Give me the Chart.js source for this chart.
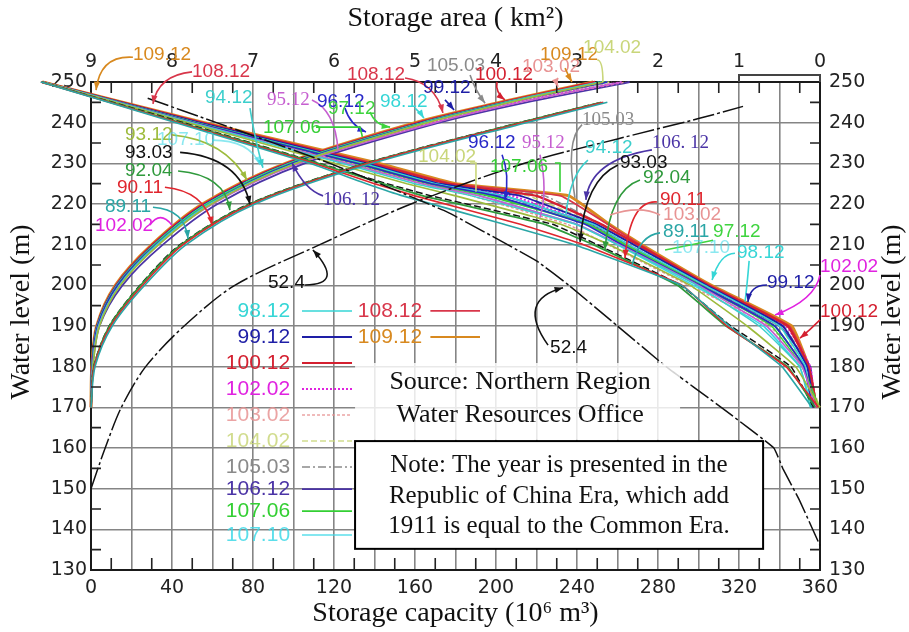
<!DOCTYPE html>
<html>
<head>
<meta charset="utf-8">
<script src="https://cdn.jsdelivr.net/npm/chart.js@4.4.1/dist/chart.umd.min.js"></script>
<style>
  html, body { margin: 0; padding: 0; background: #fff; }
  canvas { display: block; }
</style>
</head>
<body>
<canvas id="chart" width="909" height="632"></canvas>
<script>
// water levels (m) at which the curves were read
const capLevels = [170, 180, 190, 200, 210, 220, 230, 240, 245, 250];
const areaLevels = [250, 240, 230, 225, 222, 215, 210, 200, 190, 180, 170];

// storage capacity (10^6 m3) by survey, at capLevels
const cap8911  = [0, 2.0, 10.5, 26.5, 47.0, 81.0, 139.0, 215.0, 255.0, null];
const cap9011  = [0, 1.6, 9.8, 25.5, 45.5, 79.5, 137.0, 213.0, 253.0, null];
const cap9204  = [0, 1.5, 9.2, 24.5, 44.5, 78.5, 136.0, 212.0, 252.0, null];
const cap9303  = [0, 1.4, 9.0, 24.2, 44.0, 78.0, 135.5, 211.5, 252.0, null];
const cap9312  = [0, 1.0, 4.2, 14.5, 33.5, 59.5, 101.5, 166.0, 207.0, 253];
const cap9412  = [0, 0.9, 3.8, 14.0, 32.5, 58.5, 100.5, 165.0, 206.0, 252];
const cap9512  = [0, 0.8, 3.8, 14.2, 33.0, 60.0, 103.0, 170.0, 212.0, 262];
const cap9612  = [0, 0.6, 3.3, 13.2, 32.0, 58.5, 99.5, 165.0, 206.0, 255];
const cap9712  = [0, 0.6, 3.2, 13.0, 31.5, 57.5, 98.5, 164.0, 205.0, 253];
const cap9812  = [0, 0.5, 3.1, 12.8, 31.2, 57.0, 98.0, 163.5, 204.5, 251];
const cap9912  = [0, 0.5, 3.0, 12.6, 31.0, 56.5, 97.5, 163.0, 204.5, 253];
const cap10012 = [0, 0.5, 3.0, 12.5, 30.5, 56.0, 97.0, 162.0, 203.0, 249];
const cap10202 = [0, 0.6, 3.5, 13.5, 32.5, 59.5, 101.5, 168.0, 210.0, 262];
const cap10302 = [0, 0.7, 3.6, 13.8, 32.5, 59.5, 102.0, 169.0, 211.0, 264];
const cap10402 = [0, 0.5, 3.2, 13.0, 31.8, 58.0, 100.0, 166.0, 208.0, 256];
const cap10503 = [0, 0.5, 3.3, 13.2, 32.0, 58.5, 100.5, 166.5, 208.0, 257];
const cap10612 = [0, 0.8, 4.2, 15.5, 35.5, 62.5, 105.5, 172.0, 215.0, 266];
const cap10706 = [0, 0.5, 3.1, 12.9, 31.2, 57.2, 98.5, 164.0, 206.0, 254];
const cap10710 = [0, 0.6, 3.4, 13.3, 31.8, 58.0, 99.5, 165.5, 207.0, 255];
const cap10812 = [0, 0.5, 2.9, 12.3, 30.5, 55.5, 96.5, 161.0, 202.5, 249];
const cap10912 = [0, 0.4, 2.8, 12.0, 30.0, 55.0, 96.0, 160.0, 202.0, 248];

// storage area (km2) by survey, at areaLevels
const area8911  = [9.62, 7.95, 6.30, 5.60, 5.15, 3.90, 3.03, 1.71, 1.12, 0.47, 0.10];
const area9011  = [9.62, 7.92, 6.25, 5.50, 5.00, 3.70, 2.92, 1.70, 1.15, 0.42, 0.02];
const area9204  = [9.61, 7.90, 6.20, 5.40, 4.90, 3.40, 2.80, 1.76, 1.16, 0.40, 0.06];
const area9303  = [9.61, 7.86, 6.18, 5.35, 4.80, 3.30, 2.75, 1.72, 1.10, 0.36, 0.08];
const area9312  = [9.60, 7.80, 6.00, 5.10, 4.50, 3.20, 2.60, 1.60, 0.90, 0.30, 0.00];
const area9412  = [9.60, 7.76, 5.90, 5.00, 4.30, 3.02, 2.50, 1.52, 0.75, 0.25, 0.12];
const area9512  = [9.60, 7.75, 5.85, 4.92, 4.20, 3.00, 2.48, 1.50, 0.66, 0.22, 0.05];
const area9612  = [9.60, 7.72, 5.72, 4.80, 4.00, 2.90, 2.45, 1.48, 0.56, 0.20, 0.09];
const area9712  = [9.60, 7.70, 5.70, 4.80, 4.05, 2.86, 2.40, 1.46, 0.60, 0.22, 0.01];
const area9812  = [9.60, 7.70, 5.65, 4.75, 3.90, 2.80, 2.36, 1.42, 0.50, 0.18, 0.11];
const area9912  = [9.60, 7.66, 5.60, 4.70, 3.70, 2.76, 2.30, 1.40, 0.46, 0.16, 0.07];
const area10012 = [9.60, 7.64, 5.55, 4.60, 3.50, 2.70, 2.25, 1.38, 0.40, 0.14, 0.04];
const area10202 = [9.60, 7.70, 5.70, 4.76, 3.80, 2.82, 2.36, 1.45, 0.42, 0.12, 0.06];
const area10302 = [9.60, 7.76, 5.80, 4.90, 4.30, 3.12, 2.62, 1.62, 0.62, 0.20, 0.03];
const area10402 = [9.60, 7.70, 5.66, 4.70, 3.60, 2.76, 2.30, 1.42, 0.50, 0.20, 0.00];
const area10503 = [9.60, 7.66, 5.60, 4.66, 3.40, 2.70, 2.26, 1.40, 0.45, 0.15, 0.05];
const area10612 = [9.60, 7.70, 5.70, 4.80, 3.90, 2.82, 2.40, 1.46, 0.50, 0.12, 0.08];
const area10706 = [9.60, 7.72, 5.75, 4.86, 4.10, 2.86, 2.42, 1.50, 0.56, 0.20, 0.02];
const area10710 = [9.60, 7.76, 5.80, 4.90, 4.20, 3.00, 2.50, 1.56, 0.70, 0.25, 0.10];
const area10812 = [9.60, 7.62, 5.50, 4.55, 3.20, 2.62, 2.22, 1.36, 0.38, 0.13, 0.04];
const area10912 = [9.60, 7.60, 5.45, 4.50, 3.10, 2.60, 2.20, 1.34, 0.35, 0.14, 0.05];

// original 1963 (52.4) survey has its own levels
const capLevels524 = [150, 160, 170, 180, 190, 200, 210, 220, 230, 236, 241, 244];
const cap524 = [0, 7, 15, 27, 46, 71, 113, 158, 214, 260, 300, 322];
const areaLevels524 = [246, 240, 230, 218, 206, 200, 190, 180, 170, 160, 155, 147, 136];
const area524 = [8.30, 7.45, 6.05, 4.60, 3.50, 3.10, 2.50, 1.90, 1.22, 0.57, 0.46, 0.25, 0.00];

const surveyNames = ['89.11', '90.11', '92.04', '93.03', '93.12', '94.12', '95.12', '96.12', '97.12', '98.12', '99.12',
  '100.12', '102.02', '103.02', '104.02', '105.03', '106.12', '107.06', '107.10', '108.12', '109.12'];
const capacitySeries = [cap8911, cap9011, cap9204, cap9303, cap9312, cap9412, cap9512, cap9612, cap9712, cap9812, cap9912,
  cap10012, cap10202, cap10302, cap10402, cap10503, cap10612, cap10706, cap10710, cap10812, cap10912];
const areaSeries = [area8911, area9011, area9204, area9303, area9312, area9412, area9512, area9612, area9712, area9812, area9912,
  area10012, area10202, area10302, area10402, area10503, area10612, area10706, area10710, area10812, area10912];

// line styles
const styles = {
  '52.4':   { color: '#111111', width: 1.5, dash: [22, 3, 3, 3] },
  '89.11':  { color: '#2aa6a6', width: 1.6, dash: [] },
  '90.11':  { color: '#e0262e', width: 1.6, dash: [] },
  '92.04':  { color: '#2f9a3c', width: 1.8, dash: [] },
  '93.03':  { color: '#111111', width: 1.5, dash: [7, 3] },
  '93.12':  { color: '#9dbb3c', width: 1.6, dash: [] },
  '94.12':  { color: '#3ccfcc', width: 1.5, dash: [] },
  '95.12':  { color: '#c65fd0', width: 1.6, dash: [] },
  '96.12':  { color: '#2828c8', width: 1.6, dash: [] },
  '97.12':  { color: '#3fd43f', width: 1.6, dash: [] },
  '98.12':  { color: '#36d6d6', width: 1.6, dash: [] },
  '99.12':  { color: '#1e1ea6', width: 1.8, dash: [] },
  '100.12': { color: '#d42030', width: 2.4, dash: [] },
  '102.02': { color: '#e022e0', width: 2.0, dash: [2, 2] },
  '103.02': { color: '#e89494', width: 1.5, dash: [3, 2] },
  '104.02': { color: '#c9d67a', width: 1.5, dash: [6, 3] },
  '105.03': { color: '#8a8a8a', width: 1.5, dash: [8, 3, 2, 3] },
  '106.12': { color: '#4b34a6', width: 1.8, dash: [] },
  '107.06': { color: '#33cf33', width: 1.8, dash: [] },
  '107.10': { color: '#3ed8e6', width: 1.6, dash: [] },
  '108.12': { color: '#d8364a', width: 1.8, dash: [] },
  '109.12': { color: '#d8891f', width: 3.0, dash: [] }
};

const legendCol1 = ['98.12', '99.12', '100.12', '102.02', '103.02', '104.02', '105.03', '106.12', '107.06', '107.10'];
const legendCol2 = ['108.12', '109.12'];

// callouts: label position and leader path, in (capacity, level) units
const callouts = [
  { t: '109.12', c: '#d8891f', at: [20.7, 256.6], path: [[20.7, 256.1], [4.4, 256.6], [2.5, 248.0]] },
  { t: '108.12', c: '#d8364a', at: [49.9, 252.5], path: [[49.9, 252.5], [33.1, 251.7], [30.6, 244.6]] },
  { t: '94.12', c: '#3ccfcc', at: [56.3, 246.1], path: [[78.5, 243.6], [81.0, 235.7], [84.9, 228.9]] },
  { t: '95.12', c: '#c65fd0', at: [86.9, 245.6], path: [[109.1, 245.6], [120.5, 243.1], [122.0, 233.3]], serif: true, noHead: true },
  { t: '96.12', c: '#2828c8', at: [111.6, 245.1], path: [[125.4, 243.6], [127.9, 239.4], [135.8, 237.7]] },
  { t: '97.12', c: '#3fd43f', at: [117.0, 243.4], path: [[137.8, 242.6], [140.2, 239.4], [147.7, 238.9]] },
  { t: '98.12', c: '#36d6d6', at: [142.7, 245.1], path: [[160.0, 243.6], [162.5, 242.6], [164.4, 241.1]] },
  { t: '107.06', c: '#33cf33', at: [84.9, 238.7], path: [[111.1, 238.9], [132.8, 238.9], [133.8, 237.0], [134.0, 236.5]], noHead: true },
  { t: '93.12', c: '#9dbb3c', at: [16.8, 237.0], path: [[40.0, 237.0], [66.2, 235.7], [77.0, 225.9]] },
  { t: '107.10', c: '#3ed8e6', at: [32.6, 235.7], path: [[59.8, 235.7], [78.5, 235.7], [83.5, 229.6]], faded: true },
  { t: '93.03', c: '#111111', at: [16.8, 232.7], path: [[44.0, 232.7], [73.6, 231.5], [78.5, 219.9]] },
  { t: '92.04', c: '#2f9a3c', at: [16.8, 228.1], path: [[43.0, 228.1], [66.2, 227.1], [68.6, 218.5]] },
  { t: '90.11', c: '#e0262e', at: [12.8, 224.1], path: [[36.5, 224.1], [56.3, 223.1], [59.8, 214.8]] },
  { t: '89.11', c: '#2aa6a6', at: [6.9, 219.2], path: [[30.6, 219.2], [46.4, 218.7], [47.9, 211.5]] },
  { t: '102.02', c: '#e022e0', at: [2.0, 214.6], path: [[29.1, 214.8], [34.1, 218.5], [40.0, 214.8]], noHead: true },
  { t: '106. 12', c: '#4b34a6', at: [114.6, 221.0], path: [[114.6, 222.0], [105.7, 223.4], [99.3, 230.1]], serif: true },
  { t: '52.4', c: '#111111', at: [87.4, 200.6], path: [[105.7, 200.1], [125.4, 200.1], [109.6, 208.7]] },
  { t: '108.12', c: '#d8364a', at: [126.4, 251.7], path: [[155.1, 251.0], [169.9, 250.0], [173.8, 242.4]] },
  { t: '105.03', c: '#8a8a8a', at: [165.9, 254.1], path: [[187.2, 251.7], [189.6, 248.0], [194.6, 244.8]] },
  { t: '99.12', c: '#1e1ea6', at: [164.0, 248.5], path: [[174.8, 245.6], [177.3, 244.3], [179.3, 243.1]] },
  { t: '100.12', c: '#d42030', at: [189.6, 251.7], path: [[200.5, 250.0], [199.5, 247.5], [204.4, 245.6]] },
  { t: '103.02', c: '#e89494', at: [212.8, 253.7], path: [[230.6, 251.0], [229.6, 250.0], [230.6, 248.8]] },
  { t: '109.12', c: '#d8891f', at: [221.7, 256.6], path: [[234.1, 253.4], [235.6, 251.7], [237.5, 250.0]] },
  { t: '104.02', c: '#c9d67a', at: [243.0, 258.3], path: [[250.0, 255.4], [252.8, 255.4], [252.8, 250.0]], noHead: true },
  { t: '105.03', c: '#8a8a8a', at: [242.5, 240.7], path: [[242.5, 239.5], [234.1, 235.7], [239.0, 221.5]], serif: true, noHead: true },
  { t: '104.02', c: '#c9d67a', at: [161.5, 231.6], path: [[187.2, 230.1], [190.1, 230.1], [190.1, 223.6], [190.1, 223.0]], noHead: true },
  { t: '96.12', c: '#2828c8', at: [186.2, 235.0], path: [[203.0, 232.1], [206.9, 227.1], [204.4, 221.0]] },
  { t: '95.12', c: '#c65fd0', at: [212.8, 235.0], path: [[221.7, 232.1], [225.7, 223.6], [221.7, 216.6]], serif: true, noHead: true },
  { t: '107.06', c: '#33cf33', at: [197.0, 229.1], path: [[229.1, 230.1], [231.6, 230.1], [231.6, 223.6], [231.6, 223.0]], noHead: true },
  { t: '94.12', c: '#3ccfcc', at: [244.0, 233.8], path: [[245.4, 230.8], [236.5, 227.1], [234.6, 217.5]], noHead: true },
  { t: '106. 12', c: '#4b34a6', at: [277.0, 235.0], path: [[277.0, 233.3], [246.4, 230.8], [244.4, 221.0]], serif: true },
  { t: '93.03', c: '#111111', at: [261.2, 230.1], path: [[260.2, 229.6], [243.9, 225.9], [241.5, 210.7]] },
  { t: '92.04', c: '#2f9a3c', at: [272.6, 226.4], path: [[271.1, 225.9], [256.3, 223.4], [253.8, 208.7]] },
  { t: '90.11', c: '#e0262e', at: [281.0, 221.0], path: [[279.5, 220.5], [266.2, 221.0], [263.7, 206.7]] },
  { t: '103.02', c: '#e89494', at: [282.5, 217.3], path: [[281.0, 217.3], [271.1, 219.8], [256.3, 217.3]], noHead: true },
  { t: '89.11', c: '#2aa6a6', at: [282.5, 213.1], path: [[281.0, 212.9], [271.1, 212.4], [267.2, 205.0]], noHead: true },
  { t: '97.12', c: '#3fd43f', at: [307.2, 213.1], path: [[307.2, 211.1], [295.8, 209.9], [283.5, 208.7]], noHead: true },
  { t: '107.10', c: '#3ed8e6', at: [286.9, 209.2], path: [], faded: true },
  { t: '98.12', c: '#36d6d6', at: [319.0, 207.9], path: [[318.0, 207.9], [310.6, 207.9], [306.7, 201.3]] },
  { t: '', c: '#36d6d6', at: [0, 0], path: [[325.0, 206.0], [324.0, 200.0], [323.0, 196.0]], noHead: true },
  { t: '99.12', c: '#1e1ea6', at: [333.8, 200.6], path: [[333.8, 200.1], [325.4, 200.1], [324.4, 195.9]] },
  { t: '102.02', c: '#e022e0', at: [360.0, 204.5], path: [[360.0, 202.5], [357.5, 196.4], [337.8, 192.7]] },
  { t: '100.12', c: '#d42030', at: [360.0, 193.4], path: [[360.0, 191.5], [355.0, 189.0], [350.1, 187.0]] },
  { t: '52.4', c: '#111111', at: [226.7, 184.6], path: [[225.7, 185.3], [209.9, 196.4], [233.1, 199.4]] }
];

// build datasets
function toPoints(levels, values) {
  const pts = [];
  levels.forEach((lv, i) => {
    if (values[i] !== null) pts.push({ x: values[i], y: lv });
  });
  return pts;
}

function makeSet(name, pts, axis, tension) {
  const st = styles[name];
  return {
    label: name,
    data: pts,
    xAxisID: axis,
    yAxisID: 'y',
    borderColor: st.color,
    borderWidth: st.width,
    borderDash: st.dash,
    pointRadius: 0,
    fill: false,
    tension: tension,
    clip: false
  };
}

const datasets = [];
datasets.push(makeSet('52.4', toPoints(capLevels524, cap524), 'x', 0.3));
datasets.push(makeSet('52.4', toPoints(areaLevels524, area524), 'x2', 0.1));
surveyNames.forEach((name, i) => {
  datasets.push(makeSet(name, toPoints(areaLevels, areaSeries[i]), 'x2', 0.1));
  datasets.push(makeSet(name, toPoints(capLevels, capacitySeries[i]), 'x', 0.3));
});

const tickFont = { family: 'DejaVu Sans', size: 19 };
const titleFont = { family: 'Liberation Serif', size: 28 };
const gridStyle = { color: '#858585', lineWidth: 1.6, drawTicks: false };
const borderStyle = { display: true, color: '#1a1a1a', width: 2 };

const overlay = {
  id: 'overlay',
  afterDatasetsDraw(chart) {
    const ctx = chart.ctx;
    const sx = chart.scales.x, sa = chart.scales.x2, sy = chart.scales.y;
    const X = v => sx.getPixelForValue(v);
    const Y = v => sy.getPixelForValue(v);
    const ca = chart.chartArea;

    ctx.save();
    // inner minor ticks
    ctx.strokeStyle = '#222';
    ctx.lineWidth = 1.6;
    ctx.beginPath();
    for (let c = 10; c < 360; c += 20) {
      ctx.moveTo(X(c), ca.bottom); ctx.lineTo(X(c), ca.bottom - 12);
      ctx.moveTo(X(c), ca.top); ctx.lineTo(X(c), ca.top + 11);
    }
    for (let l = 135; l < 250; l += 10) {
      ctx.moveTo(ca.left, Y(l)); ctx.lineTo(ca.left + 10, Y(l));
      ctx.moveTo(ca.right, Y(l)); ctx.lineTo(ca.right - 10, Y(l));
    }
    ctx.stroke();

    // bracket above the top axis between area 1 and 0
    ctx.strokeStyle = '#444';
    ctx.lineWidth = 2;
    ctx.beginPath();
    ctx.moveTo(sa.getPixelForValue(1), ca.top);
    ctx.lineTo(sa.getPixelForValue(1), ca.top - 7);
    ctx.lineTo(sa.getPixelForValue(0), ca.top - 7);
    ctx.lineTo(sa.getPixelForValue(0), ca.top);
    ctx.stroke();

    // callouts
    ctx.lineWidth = 1.6;
    ctx.setLineDash([]);
    callouts.forEach(n => {
      ctx.strokeStyle = n.c;
      ctx.fillStyle = n.c;
      ctx.globalAlpha = n.faded ? 0.6 : 1;
      const p = n.path.map(q => [X(q[0]), Y(q[1])]);
      if (p.length > 1) {
        ctx.beginPath();
        ctx.moveTo(p[0][0], p[0][1]);
        if (p.length === 3) ctx.quadraticCurveTo(p[1][0], p[1][1], p[2][0], p[2][1]);
        else p.slice(1).forEach(q => ctx.lineTo(q[0], q[1]));
        ctx.stroke();
        if (!n.noHead) {
          const a = p[p.length - 2], b = p[p.length - 1];
          const ang = Math.atan2(b[1] - a[1], b[0] - a[0]);
          ctx.beginPath();
          ctx.moveTo(b[0], b[1]);
          ctx.lineTo(b[0] - 9 * Math.cos(ang - 0.35), b[1] - 9 * Math.sin(ang - 0.35));
          ctx.lineTo(b[0] - 9 * Math.cos(ang + 0.35), b[1] - 9 * Math.sin(ang + 0.35));
          ctx.closePath();
          ctx.fill();
        }
      }
      if (n.t) {
        ctx.font = n.serif ? '19px "Liberation Serif"' : '19px "Liberation Sans"';
        ctx.textAlign = 'left';
        ctx.textBaseline = 'middle';
        ctx.fillText(n.t, X(n.at[0]), Y(n.at[1]));
      }
    });
    ctx.globalAlpha = 1;

    // legend
    const rowLevels = [193.7, 187.3, 180.9, 174.5, 168.1, 161.7, 155.3, 149.9, 144.5, 138.6];
    ctx.font = '21px "Liberation Sans"';
    ctx.textBaseline = 'middle';
    const drawEntry = (name, lv, labelRight, lineFrom, lineTo) => {
      const st = styles[name];
      ctx.fillStyle = st.color;
      ctx.globalAlpha = (name === '104.02' || name === '103.02' || name === '107.10') ? 0.85 : 1;
      ctx.textAlign = 'right';
      ctx.fillText(name, X(labelRight), Y(lv));
      ctx.strokeStyle = st.color;
      ctx.lineWidth = Math.min(st.width, 2.2);
      ctx.setLineDash(st.dash);
      ctx.beginPath();
      ctx.moveTo(X(lineFrom), Y(lv));
      ctx.lineTo(X(lineTo), Y(lv));
      ctx.stroke();
      ctx.setLineDash([]);
      ctx.globalAlpha = 1;
    };
    legendCol1.forEach((name, i) => drawEntry(name, rowLevels[i], 98.3, 104.2, 128.9));
    legendCol2.forEach((name, i) => drawEntry(name, rowLevels[i], 163.5, 167.6, 192.1));

    // source box
    ctx.fillStyle = 'rgba(255,255,255,0.82)';
    ctx.fillRect(X(130.4), Y(180.9), X(290.9) - X(130.4), Y(162.0) - Y(180.9));
    ctx.fillStyle = '#111';
    ctx.font = '26px "Liberation Serif"';
    ctx.textAlign = 'center';
    ctx.fillText('Source: Northern Region', X(211.9), Y(176.2));
    ctx.fillText('Water Resources Office', X(211.9), Y(168.1));

    // note box
    const nx0 = X(130.4), nx1 = X(331.9), ny0 = Y(161.7), ny1 = Y(135.2);
    ctx.fillStyle = '#fff';
    ctx.fillRect(nx0, ny0, nx1 - nx0, ny1 - ny0);
    ctx.strokeStyle = '#000';
    ctx.lineWidth = 2;
    ctx.strokeRect(nx0, ny0, nx1 - nx0, ny1 - ny0);
    ctx.fillStyle = '#111';
    ctx.font = '25px "Liberation Serif"';
    ctx.fillText('Note: The year is presented in the', X(231.1), Y(155.8));
    ctx.fillText('Republic of China Era, which add', X(231.1), Y(148.2));
    ctx.fillText('1911 is equal to the Common Era.', X(231.1), Y(140.6));

    // both axis titles, reading upwards
    ctx.font = '28px "Liberation Serif"';
    [22, 893].forEach(tx => {
      ctx.save();
      ctx.translate(tx, 312);
      ctx.rotate(-Math.PI / 2);
      ctx.fillText('Water level (m)', 0, 0);
      ctx.restore();
    });

    ctx.restore();
  }
};

const chart = new Chart(document.getElementById('chart'), {
  type: 'line',
  data: { datasets: datasets },
  options: {
    responsive: false,
    animation: false,
    layout: { padding: 0 },
    plugins: { legend: { display: false }, tooltip: { enabled: false } },
    scales: {
      x: {
        type: 'linear', position: 'bottom', min: 0, max: 360,
        ticks: { stepSize: 20, autoSkip: false, maxRotation: 0, padding: 7, color: '#222', font: tickFont,
          callback: v => (v % 40 === 0 ? v : '') },
        grid: gridStyle, border: borderStyle,
        title: { display: true, text: 'Storage capacity (10\u2076 m\u00b3)', color: '#111', font: titleFont, padding: { top: 0, bottom: 2 } },
        afterFit: s => { s.height = 62; }
      },
      x2: {
        type: 'linear', position: 'top', min: 0, max: 9, reverse: true,
        ticks: { stepSize: 1, autoSkip: false, maxRotation: 0, padding: 9, color: '#222', font: tickFont },
        grid: { display: false, drawTicks: false }, border: borderStyle,
        title: { display: true, text: 'Storage area ( km\u00b2)', color: '#111', font: titleFont, padding: { top: 2, bottom: 0 } },
        afterFit: s => { s.height = 82; }
      },
      y: {
        type: 'linear', position: 'left', min: 130, max: 250,
        ticks: { stepSize: 10, autoSkip: false, padding: 4, color: '#222', font: tickFont },
        grid: gridStyle, border: borderStyle,
        afterFit: s => { s.width = 91; }
      },
      y2: {
        type: 'linear', position: 'right', min: 130, max: 250,
        ticks: { stepSize: 10, autoSkip: false, padding: 9, color: '#222', font: tickFont },
        grid: { display: false, drawTicks: false }, border: borderStyle,
        afterFit: s => { s.width = 89; }
      }
    }
  },
  plugins: [overlay]
});
</script>
</body>
</html>
